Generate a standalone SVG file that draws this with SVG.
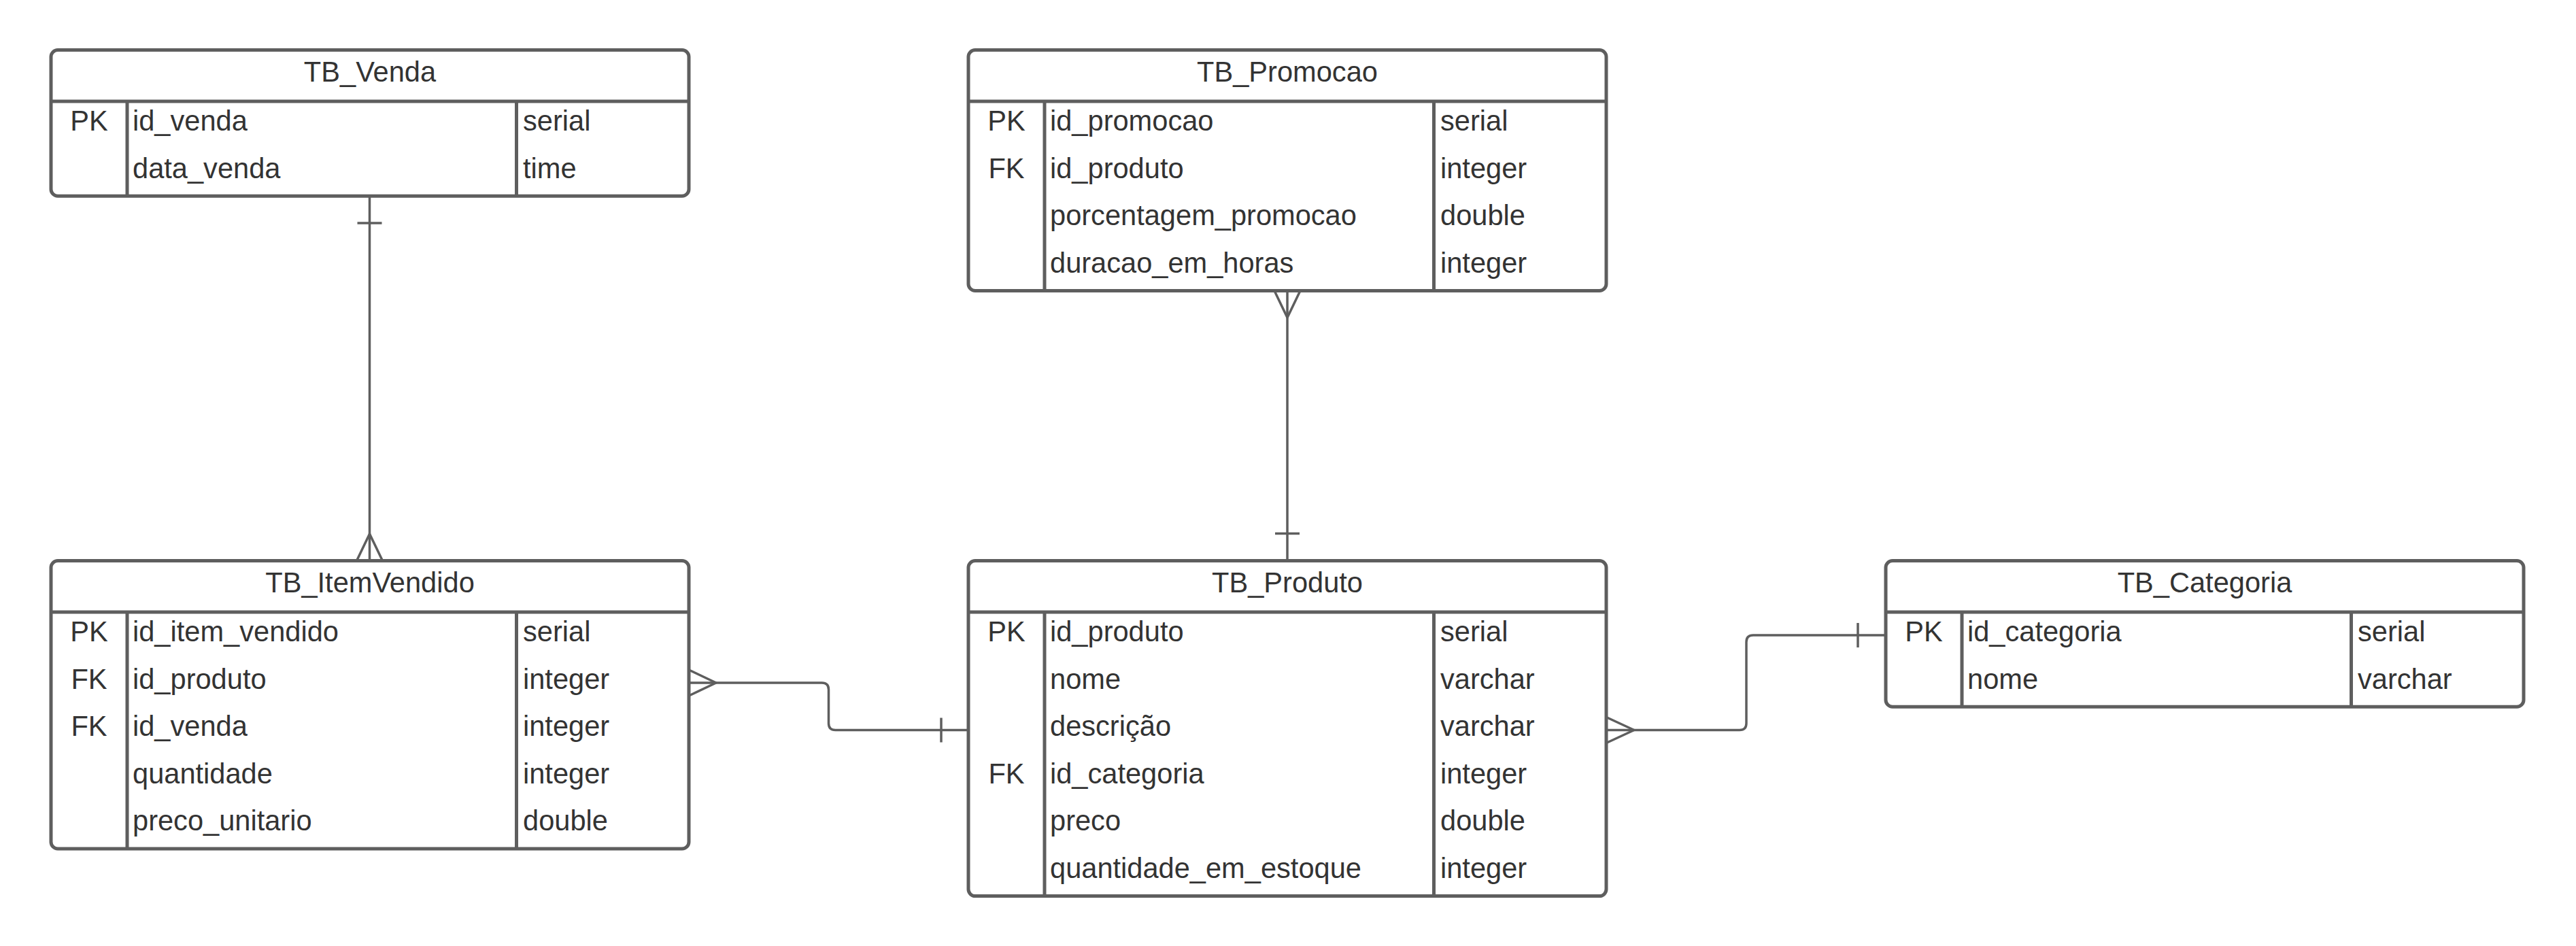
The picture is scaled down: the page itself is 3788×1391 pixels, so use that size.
<svg xmlns="http://www.w3.org/2000/svg" width="3788" height="1391" viewBox="0 0 3788 1391">
<style>
.box{fill:#ffffff;stroke:#5e5e5e;stroke-width:5}
.ln{stroke:#5e5e5e;stroke-width:5;fill:none}
.cn{stroke:#5e5e5e;stroke-width:3.5;fill:none;stroke-linejoin:round}
text{font-family:"Liberation Sans",Arial,sans-serif;font-size:41.6px;fill:#333333}
.t{text-anchor:middle}
.k{text-anchor:middle}
</style>
<rect width="3788" height="1391" fill="#ffffff"/>

<g id="connectors">
  <!-- TB_Venda - TB_ItemVendido -->
  <path class="cn" d="M543.5,288 V824.5"/>
  <path class="cn" d="M525.5,328 H561.5"/>
  <path class="cn" d="M524.5,824.5 L543.5,785 L562.5,824.5"/>
  <!-- TB_Promocao - TB_Produto -->
  <path class="cn" d="M1893,427.5 V824.5"/>
  <path class="cn" d="M1874,427.5 L1893,467 L1912,427.5"/>
  <path class="cn" d="M1875,784.5 H1911"/>
  <!-- TB_ItemVendido - TB_Produto -->
  <path class="cn" d="M1013,1004 H1208.5 Q1218.5,1004 1218.5,1014 V1063.5 Q1218.5,1073.5 1228.5,1073.5 H1424"/>
  <path class="cn" d="M1013,985 L1053,1004 L1013,1023"/>
  <path class="cn" d="M1384,1055.5 V1091.5"/>
  <!-- TB_Produto - TB_Categoria -->
  <path class="cn" d="M2362,1073.5 H2558 Q2568,1073.5 2568,1063.5 V944 Q2568,934 2578,934 H2773"/>
  <path class="cn" d="M2362,1054.5 L2403,1073.5 L2362,1092.5"/>
  <path class="cn" d="M2732,916 V952"/>
</g>

<g id="TB_Venda">
  <rect class="box" x="75" y="73.5" width="938" height="214.7" rx="10"/>
  <path class="ln" d="M75,149 H1013 M187,149 V288.2 M759.5,149 V288.2"/>
  <text class="t" x="544" y="120">TB_Venda</text>
  <text class="k" x="131" y="192">PK</text>
  <text x="195" y="192">id_venda</text>
  <text x="769" y="192">serial</text>
  <text x="195" y="261.6">data_venda</text>
  <text x="769" y="261.6">time</text>
</g>

<g id="TB_Promocao">
  <rect class="box" x="1424" y="73.5" width="938" height="353.9" rx="10"/>
  <path class="ln" d="M1424,149 H2362 M1536,149 V427.4 M2108.5,149 V427.4"/>
  <text class="t" x="1893" y="120">TB_Promocao</text>
  <text class="k" x="1480" y="192">PK</text>
  <text x="1544" y="192">id_promocao</text>
  <text x="2118" y="192">serial</text>
  <text class="k" x="1480" y="261.6">FK</text>
  <text x="1544" y="261.6">id_produto</text>
  <text x="2118" y="261.6">integer</text>
  <text x="1544" y="331.2">porcentagem_promocao</text>
  <text x="2118" y="331.2">double</text>
  <text x="1544" y="400.8">duracao_em_horas</text>
  <text x="2118" y="400.8">integer</text>
</g>

<g id="TB_ItemVendido">
  <rect class="box" x="75" y="824.5" width="938" height="423.5" rx="10"/>
  <path class="ln" d="M75,900 H1013 M187,900 V1248 M759.5,900 V1248"/>
  <text class="t" x="544" y="871">TB_ItemVendido</text>
  <text class="k" x="131" y="943">PK</text>
  <text x="195" y="943">id_item_vendido</text>
  <text x="769" y="943">serial</text>
  <text class="k" x="131" y="1012.6">FK</text>
  <text x="195" y="1012.6">id_produto</text>
  <text x="769" y="1012.6">integer</text>
  <text class="k" x="131" y="1082.2">FK</text>
  <text x="195" y="1082.2">id_venda</text>
  <text x="769" y="1082.2">integer</text>
  <text x="195" y="1151.8">quantidade</text>
  <text x="769" y="1151.8">integer</text>
  <text x="195" y="1221.4">preco_unitario</text>
  <text x="769" y="1221.4">double</text>
</g>

<g id="TB_Produto">
  <rect class="box" x="1424" y="824.5" width="938" height="493.1" rx="10"/>
  <path class="ln" d="M1424,900 H2362 M1536,900 V1317.6 M2108.5,900 V1317.6"/>
  <text class="t" x="1893" y="871">TB_Produto</text>
  <text class="k" x="1480" y="943">PK</text>
  <text x="1544" y="943">id_produto</text>
  <text x="2118" y="943">serial</text>
  <text x="1544" y="1012.6">nome</text>
  <text x="2118" y="1012.6">varchar</text>
  <text x="1544" y="1082.2">descrição</text>
  <text x="2118" y="1082.2">varchar</text>
  <text class="k" x="1480" y="1151.8">FK</text>
  <text x="1544" y="1151.8">id_categoria</text>
  <text x="2118" y="1151.8">integer</text>
  <text x="1544" y="1221.4">preco</text>
  <text x="2118" y="1221.4">double</text>
  <text x="1544" y="1291">quantidade_em_estoque</text>
  <text x="2118" y="1291">integer</text>
</g>

<g id="TB_Categoria">
  <rect class="box" x="2773" y="824.5" width="938" height="214.7" rx="10"/>
  <path class="ln" d="M2773,900 H3711 M2885,900 V1039.2 M3457.5,900 V1039.2"/>
  <text class="t" x="3242" y="871">TB_Categoria</text>
  <text class="k" x="2829" y="943">PK</text>
  <text x="2893" y="943">id_categoria</text>
  <text x="3467" y="943">serial</text>
  <text x="2893" y="1012.6">nome</text>
  <text x="3467" y="1012.6">varchar</text>
</g>
</svg>
